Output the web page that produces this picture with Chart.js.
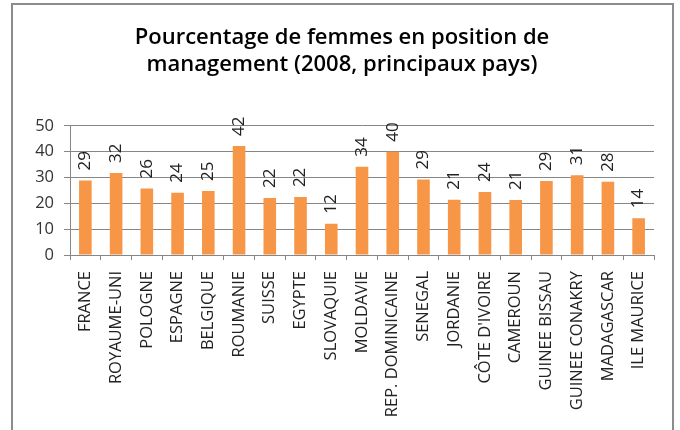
<!DOCTYPE html>
<html>
<head>
<meta charset="utf-8">
<script src="https://cdn.jsdelivr.net/npm/chart.js@4"></script>
<style>
  html, body { margin: 0; padding: 0; background: #fff; overflow: hidden; }
  #frame { position: absolute; left: 11px; top: 3px; width: 659px; height: 500px; border: 2px solid #8c8c8c; }
  #chart { position: absolute; left: 0; top: 0; }
</style>
</head>
<body>
<div id="frame"></div>
<canvas id="chart" width="680" height="430"></canvas>
<script>
const titleLines = ['Pourcentage de femmes en position de', 'management (2008, principaux pays)'];
const countries = ['FRANCE', 'ROYAUME-UNI', 'POLOGNE', 'ESPAGNE', 'BELGIQUE', 'ROUMANIE', 'SUISSE', 'EGYPTE',
  'SLOVAQUIE', 'MOLDAVIE', 'REP. DOMINICAINE', 'SENEGAL', 'JORDANIE', 'CÔTE D\'IVOIRE', 'CAMEROUN',
  'GUINEE BISSAU', 'GUINEE CONAKRY', 'MADAGASCAR', 'ILE MAURICE'];
const percentWomen = [28.8, 31.7, 25.7, 24.1, 24.8, 42.2, 22.1, 22.4, 12.1, 34.2, 40.0, 29.2, 21.4, 24.4, 21.3, 28.6, 30.9, 28.3, 14.2];
const yTicks = [0, 10, 20, 30, 40, 50];

const FONT = "'Open Sans', 'DejaVu Sans', sans-serif";

// rotated value labels above each bar
const barLabels = {
  id: 'barLabels',
  afterDatasetsDraw(chart) {
    const ctx = chart.ctx;
    const meta = chart.getDatasetMeta(0);
    ctx.save();
    ctx.font = '17px ' + FONT;
    ctx.fillStyle = '#222';
    ctx.textAlign = 'left';
    ctx.textBaseline = 'middle';
    meta.data.forEach(function (bar, i) {
      ctx.save();
      ctx.translate(bar.x, bar.y - 10);
      ctx.rotate(-Math.PI / 2);
      ctx.fillText(String(Math.round(percentWomen[i])), 0, 0);
      ctx.restore();
    });
    ctx.restore();
  }
};

new Chart(document.getElementById('chart'), {
  type: 'bar',
  data: {
    labels: countries,
    datasets: [{
      data: percentWomen,
      backgroundColor: '#f79646',
      barPercentage: 0.41,
      categoryPercentage: 1
    }]
  },
  options: {
    responsive: false,
    animation: false,
    layout: { padding: { left: 30, right: 26, top: 0, bottom: 0 } },
    plugins: {
      legend: { display: false },
      tooltip: { enabled: false },
      title: {
        display: true,
        text: titleLines,
        color: '#000',
        font: { family: FONT, size: 22, weight: '600', lineHeight: 1.2 },
        padding: { top: 25, bottom: 48 }
      }
    },
    scales: {
      y: {
        min: 0,
        max: 50,
        afterFit: function (scale) { scale.width = 40; },
        afterBuildTicks: function (scale) { scale.ticks = yTicks.map(v => ({ value: v })); },
        grid: { color: '#868686', lineWidth: 1, tickLength: 6 },
        border: { display: true, color: '#868686' },
        ticks: { color: '#333', padding: 10, font: { family: FONT, size: 16.5 } }
      },
      x: {
        afterFit: function (scale) { scale.height = 175; },
        grid: { display: true, drawOnChartArea: false, color: '#868686', tickLength: 5, offset: true },
        border: { display: true, color: '#868686' },
        ticks: {
          autoSkip: false,
          maxRotation: 90,
          minRotation: 90,
          padding: 11,
          color: '#222',
          font: { family: FONT, size: 16.5 }
        }
      }
    }
  },
  plugins: [barLabels]
});
</script>
</body>
</html>
